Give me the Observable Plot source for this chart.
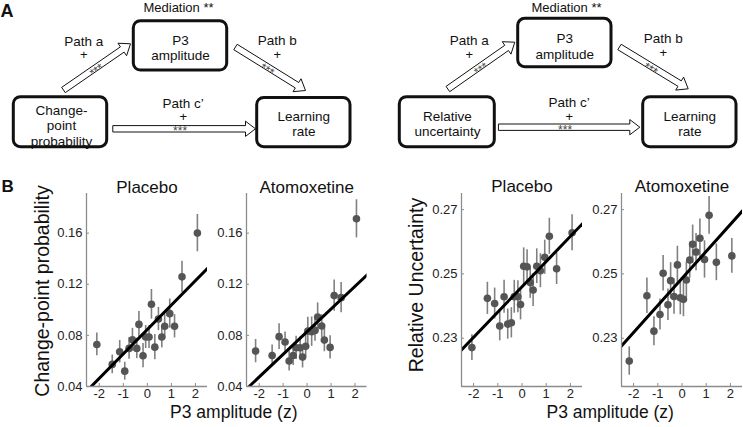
<!DOCTYPE html>
<html>
<head>
<meta charset="utf-8">
<script src="https://cdn.jsdelivr.net/npm/d3@7"></script>
<script src="https://cdn.jsdelivr.net/npm/@observablehq/plot@0.6"></script>
<style>
  body { margin: 0; background: #fff; }
  #fig { position: relative; width: 743px; height: 427px; overflow: hidden; background: #fff;
         font-family: "Liberation Sans", Arial, sans-serif; }
  #fig > * { position: absolute; }
  .lab { white-space: nowrap; line-height: 1; color: #111; }
</style>
</head>
<body>
<div id="fig"></div>
<script>
// ---------------- DATA ----------------
// Panel B: P3 amplitude (z) bins vs. behavioural measures (mean ± SEM)
const p3CppPlacebo = [-2.10,-1.46,-1.15,-0.94,-0.76,-0.62,-0.44,-0.35,-0.18,-0.07,0.07,0.17,0.31,0.46,0.60,0.72,0.93,1.13,1.44,2.08];
const cppPlacebo   = [0.0729,0.0573,0.0672,0.0520,0.0698,0.0766,0.0698,0.0886,0.0641,0.0787,0.0787,0.1043,0.0708,0.0928,0.0787,0.0871,0.0970,0.0871,0.1258,0.1600];
const cppPlaceboSem = [0.0089,0.0073,0.0088,0.0070,0.0085,0.0089,0.0080,0.0100,0.0095,0.0090,0.0090,0.0116,0.0098,0.0091,0.0085,0.0094,0.0114,0.0091,0.0122,0.0146];

const p3CppAtomox = [-2.15,-1.46,-1.17,-0.92,-0.75,-0.58,-0.46,-0.29,-0.19,-0.06,0.03,0.19,0.33,0.44,0.61,0.72,0.96,1.13,1.42,2.06];
const cppAtomox   = [0.0677,0.0643,0.0790,0.0748,0.0599,0.0643,0.0703,0.0703,0.0630,0.0714,0.0834,0.0829,0.0839,0.0944,0.0873,0.0763,0.0706,0.1111,0.1095,0.1712];
const cppAtomoxSem = [0.0091,0.0082,0.0100,0.0078,0.0078,0.0078,0.0091,0.0085,0.0085,0.0089,0.0107,0.0115,0.0085,0.0110,0.0089,0.0091,0.0091,0.0123,0.0118,0.0149];

const p3RuPlacebo = [-2.07,-1.43,-1.13,-0.92,-0.74,-0.59,-0.44,-0.32,-0.17,-0.06,0.07,0.21,0.34,0.46,0.61,0.76,0.94,1.13,1.43,2.07];
const ruPlacebo   = [0.2271,0.2424,0.2408,0.2338,0.2429,0.2344,0.2348,0.2429,0.2429,0.2405,0.2524,0.2522,0.2473,0.2450,0.2524,0.2510,0.2552,0.2617,0.2516,0.2628];
const ruPlaceboSem = [0.0040,0.0050,0.0048,0.0046,0.0051,0.0047,0.0047,0.0051,0.0050,0.0048,0.0057,0.0053,0.0049,0.0051,0.0054,0.0053,0.0053,0.0056,0.0049,0.0056];

const p3RuAtomox = [-2.18,-1.45,-1.16,-0.91,-0.78,-0.58,-0.47,-0.33,-0.19,-0.07,0.06,0.18,0.32,0.44,0.58,0.74,0.93,1.12,1.42,2.06];
const ruAtomox   = [0.2229,0.2432,0.2322,0.2374,0.2502,0.2404,0.2479,0.2430,0.2528,0.2426,0.2421,0.2481,0.2543,0.2592,0.2568,0.2611,0.2545,0.2682,0.2536,0.2556];
const ruAtomoxSem = [0.0044,0.0055,0.0045,0.0048,0.0055,0.0049,0.0056,0.0055,0.0058,0.0053,0.0054,0.0056,0.0056,0.0060,0.0058,0.0060,0.0058,0.0059,0.0057,0.0054];

// regression line end points
const cppPlaceboFitX = [-2.36, 2.56], cppPlaceboFitY = [0.0395, 0.1336];
const cppAtomoxFitX  = [-2.42, 2.53], cppAtomoxFitY  = [0.0400, 0.1278];
const ruPlaceboFitX  = [-2.51, 2.51], ruPlaceboFitY  = [0.2263, 0.2657];
const ruAtomoxFitX   = [-2.51, 2.51], ruAtomoxFitY   = [0.2275, 0.2697];

// tick labels
const xTicks = [-2, -1, 0, 1, 2];
const cppTicks = [0.04, 0.08, 0.12, 0.16];
const ruTicks = [0.23, 0.25, 0.27];

// panel text
const conditions = ["Placebo", "Atomoxetine"];
const yLabels = ["Change-point probability", "Relative Uncertainty"];
const xLabel = "P3 amplitude (z)";
const panelLetters = ["A", "B"];

// Panel A: mediation diagrams
const sourceLabels = ["Change-\npoint\nprobability", "Relative\nuncertainty"];
const mediatorLabel = "P3\namplitude";
const outcomeLabel = "Learning\nrate";
const pathNames = ["Path a", "Path b", "Path c\u2019"];
const pathSigns = ["+", "+", "+"];
const pathStars = ["***", "***", "***"];
const mediationLabel = "Mediation **";

// ---------------- LAYOUT ----------------
const FONT = '"Liberation Sans", Arial, sans-serif';
const fig = document.getElementById("fig");

const diagramLayout = [
  { src: {x1: 13.3, x2: 106.7, y1: 96.7, y2: 146.7, tx: 61, ty: 125},
    med: {x1: 133.3, x2: 226.7, y1: 20.7, y2: 70, tx: 180, ty: 47},
    out: {x1: 256.7, x2: 350, y1: 97.5, y2: 146.7, tx: 303.3, ty: 123.2},
    mediation: {x: 178, y: 7.6},
    arrows: [ {tail: [63.3, 89.3], tip: [130, 43.3], lx: 83.3, ly: 47.8},
              {tail: [235.3, 46.7], tip: [305, 90], lx: 276.7, ly: 47},
              {tail: [112.7, 128.3], tip: [255, 128.3], lx: 182.7, ly: 109.7} ] },
  { src: {x1: 399.3, x2: 494.3, y1: 96.7, y2: 146.7, tx: 447, ty: 123},
    med: {x1: 517.7, x2: 611, y1: 18.3, y2: 66.7, tx: 564.3, ty: 45.5},
    out: {x1: 642.7, x2: 736, y1: 96.7, y2: 146.7, tx: 689.3, ty: 123},
    mediation: {x: 566, y: 7},
    arrows: [ {tail: [447.7, 88.3], tip: [514.3, 41.7], lx: 468.7, ly: 47},
              {tail: [619.3, 46.7], tip: [687.7, 88.3], lx: 662.7, ly: 45.5},
              {tail: [498.3, 126.7], tip: [639.3, 126.7], lx: 568.7, ly: 109} ] }
];

function blockArrow(id, [x0, y0], [x1, y1], sw = 3.2, hw = 7.6, hl = 10) {
  const dx = x1 - x0, dy = y1 - y0, L = Math.hypot(dx, dy);
  const ux = dx / L, uy = dy / L, nx = -uy, ny = ux;
  const bx = x1 - ux * hl, by = y1 - uy * hl;
  return [[x0 + nx*sw, y0 + ny*sw], [bx + nx*sw, by + ny*sw], [bx + nx*hw, by + ny*hw], [x1, y1],
          [bx - nx*hw, by - ny*hw], [bx - nx*sw, by - ny*sw], [x0 - nx*sw, y0 - ny*sw]]
    .map(([x, y]) => ({id, x, y}));
}

const boxes = [], nodeTexts = [], arrowPts = [], starTexts = [], pathNameTexts = [], pathSignTexts = [], medTexts = [];
diagramLayout.forEach((L, k) => {
  boxes.push(L.src, L.med, L.out);
  nodeTexts.push({x: L.src.tx, y: L.src.ty, t: sourceLabels[k]},
                 {x: L.med.tx, y: L.med.ty, t: mediatorLabel},
                 {x: L.out.tx, y: L.out.ty, t: outcomeLabel});
  medTexts.push({x: L.mediation.x, y: L.mediation.y, t: mediationLabel});
  L.arrows.forEach((a, j) => {
    arrowPts.push(...blockArrow(`${k}-${j}`, a.tail, a.tip));
    const ang = Math.atan2(a.tip[1] - a.tail[1], a.tip[0] - a.tail[0]);
    const mx = a.tail[0] + (a.tip[0] - a.tail[0]) * 0.47, my = a.tail[1] + (a.tip[1] - a.tail[1]) * 0.47;
    starTexts.push({x: mx - Math.sin(ang) * 2.8, y: my + Math.cos(ang) * 2.8, t: pathStars[j], r: ang * 180 / Math.PI});
    pathNameTexts.push({x: a.lx, y: a.ly - 7, t: pathNames[j]});
    pathSignTexts.push({x: a.lx, y: a.ly + 7, t: pathSigns[j]});
  });
});

const diagram = Plot.plot({
  width: 743, height: 165, margin: 0,
  style: {fontFamily: FONT, background: "transparent"},
  x: {domain: [0, 743], range: [0, 743], axis: null},
  y: {domain: [0, 165], range: [0, 165], axis: null},
  marks: [
    Plot.line(arrowPts, {x: "x", y: "y", z: "id", curve: "linear-closed", fill: "white", stroke: "#111", strokeWidth: 1}),
    Plot.text(starTexts, {x: "x", y: "y", text: "t", rotate: "r", fontSize: 12, fill: "#444"}),
    Plot.rect(boxes, {x1: "x1", x2: "x2", y1: "y1", y2: "y2", rx: 7, fill: "white", stroke: "#111", strokeWidth: 3}),
    Plot.text(nodeTexts, {x: "x", y: "y", text: "t", fontSize: 13.5, lineHeight: 1.15, fill: "#111"}),
    Plot.text(pathNameTexts, {x: "x", y: "y", text: "t", fontSize: 13.5, fill: "#111"}),
    Plot.text(pathSignTexts, {x: "x", y: "y", text: "t", fontSize: 13, fill: "#111"}),
    Plot.text(medTexts, {x: "x", y: "y", text: "t", fontSize: 13, fill: "#111"}),
    Plot.text([panelLetters[0]], {x: () => 6.5, y: () => 11, text: d => d, fontSize: 18, fontWeight: "bold", fill: "#111"})
  ]
});
diagram.style.left = "0px"; diagram.style.top = "0px";
fig.appendChild(diagram);

// ---------------- SCATTER PANELS ----------------
function panel(o) {
  const rows = o.x.map((v, i) => ({x: v, y: o.y[i], lo: o.y[i] - o.err[i], hi: o.y[i] + o.err[i]}));
  const fit = o.fitX.map((v, i) => ({x: v, y: o.fitY[i]}));
  const axisColor = "#8c8c8c";
  const marks = [
    Plot.ruleX(rows, {x: "x", y1: "lo", y2: "hi", stroke: "#808080", strokeWidth: 1.6}),
    Plot.dot(rows, {x: "x", y: "y", r: 3.8, fill: "#555555"}),
    Plot.line(fit, {x: "x", y: "y", stroke: "#000", strokeWidth: 3, clip: true}),
    Plot.ruleX([o.xDomain[0]], {stroke: axisColor, strokeWidth: 1.3}),
    Plot.ruleY([o.yDomain[0]], {stroke: axisColor, strokeWidth: 1.3}),
    Plot.axisX(xTicks, {tickSize: -3, tickPadding: 5, stroke: axisColor, fill: "#222", fontSize: 13,
                        tickFormat: d => String(d), label: null}),
    Plot.axisY(o.yTicks, {tickSize: -3, tickPadding: 7, stroke: axisColor, fill: "#222", fontSize: 13,
                          tickFormat: d3.format(".2f"), label: null}),
    Plot.text([o.title], {frameAnchor: "top", lineAnchor: "middle", textAnchor: "middle", dy: o.titleDy,
                          text: d => d, fontSize: 17, fill: "#111"})
  ];
  if (o.ylabel) marks.push(Plot.text([o.ylabel], {frameAnchor: "left", lineAnchor: "middle", textAnchor: "middle",
                                                  dx: o.ylabelDx, dy: o.ylabelDy,
                                                  rotate: -90, text: d => d, fontSize: 19.5, fill: "#111"}));
  const p = Plot.plot({
    width: o.width, height: 262,
    marginLeft: o.mL, marginRight: o.mR, marginTop: 28, marginBottom: 41,
    style: {fontFamily: FONT, background: "transparent"},
    x: {domain: o.xDomain}, y: {domain: o.yDomain},
    marks
  });
  p.style.left = o.left + "px"; p.style.top = "165px";
  fig.appendChild(p);
}

panel({left: 0, width: 212, mL: 86, mR: 5, xDomain: [-2.53, 2.5], yDomain: [0.04, 0.191], yTicks: cppTicks,
       x: p3CppPlacebo, y: cppPlacebo, err: cppPlaceboSem, fitX: cppPlaceboFitX, fitY: cppPlaceboFitY,
       title: conditions[0], titleDy: -6, ylabel: yLabels[0], ylabelDx: -44, ylabelDy: 1});
panel({left: 206, width: 165.5, mL: 40, mR: 5, xDomain: [-2.53, 2.5], yDomain: [0.04, 0.191], yTicks: cppTicks,
       x: p3CppAtomox, y: cppAtomox, err: cppAtomoxSem, fitX: cppAtomoxFitX, fitY: cppAtomoxFitY,
       title: conditions[1], titleDy: -6});
panel({left: 371, width: 216, mL: 90, mR: 5, xDomain: [-2.5, 2.5], yDomain: [0.215, 0.275], yTicks: ruTicks,
       x: p3RuPlacebo, y: ruPlacebo, err: ruPlaceboSem, fitX: ruPlaceboFitX, fitY: ruPlaceboFitY,
       title: conditions[0], titleDy: -7, ylabel: yLabels[1], ylabelDx: -45, ylabelDy: -5});
panel({left: 581, width: 162, mL: 40, mR: 1, xDomain: [-2.5, 2.5], yDomain: [0.215, 0.275], yTicks: ruTicks,
       x: p3RuAtomox, y: ruAtomox, err: ruAtomoxSem, fitX: ruAtomoxFitX, fitY: ruAtomoxFitY,
       title: conditions[1], titleDy: -7});

// shared x labels and panel letter B
function label(text, cx, top, size, weight) {
  const d = document.createElement("div");
  d.className = "lab";
  d.textContent = text;
  d.style.fontSize = size + "px";
  if (weight) d.style.fontWeight = weight;
  d.style.top = top + "px";
  fig.appendChild(d);
  d.style.left = (cx - d.offsetWidth / 2) + "px";
}
label(xLabel, 233.6, 404, 17.5);
label(xLabel, 610, 404, 17.5);
label(panelLetters[1], 7.5, 178, 17, "bold");
</script>
</body>
</html>
